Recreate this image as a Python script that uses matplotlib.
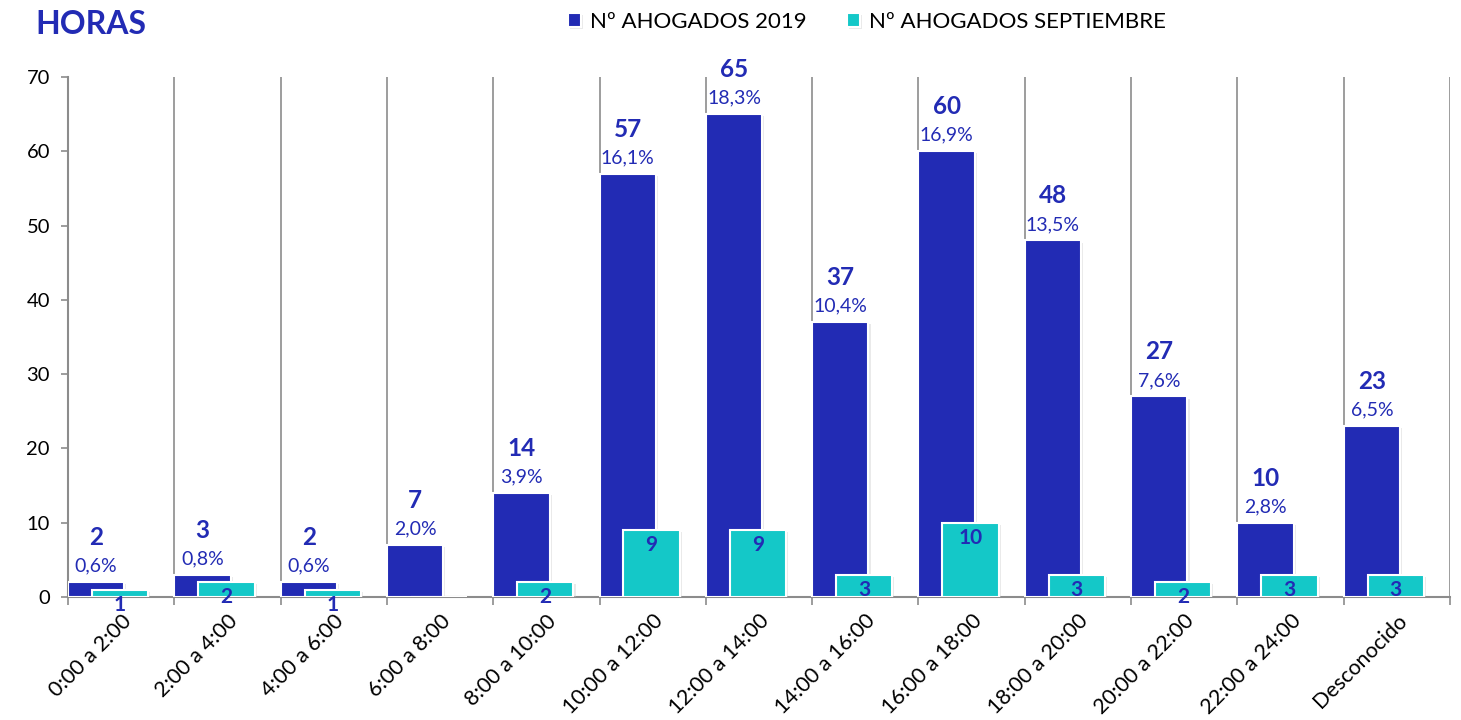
import matplotlib.pyplot as plt
import matplotlib.patheffects as pe
import numpy as np

# data
horas = ['0:00 a 2:00', '2:00 a 4:00', '4:00 a 6:00', '6:00 a 8:00', '8:00 a 10:00',
         '10:00 a 12:00', '12:00 a 14:00', '14:00 a 16:00', '16:00 a 18:00',
         '18:00 a 20:00', '20:00 a 22:00', '22:00 a 24:00', 'Desconocido']
ahogados_2019 = [2, 3, 2, 7, 14, 57, 65, 37, 60, 48, 27, 10, 23]
ahogados_sept = [1, 2, 1, 0, 2, 9, 9, 3, 10, 3, 2, 3, 3]
porcentajes = ['0,6%', '0,8%', '0,6%', '2,0%', '3,9%', '16,1%', '18,3%',
               '10,4%', '16,9%', '13,5%', '7,6%', '2,8%', '6,5%']

AZUL = '#222bb4'
CIAN = '#14c8c8'
GRIS = '#8c8c8c'

plt.rcParams['font.family'] = ['Lato', 'DejaVu Sans']

fig = plt.figure(figsize=(14.61, 7.2), dpi=100)
ax = fig.add_axes([68 / 1461, 1 - 597 / 720, (1450 - 68) / 1461, 520 / 720])

x = np.arange(len(horas))
w = 0.53
sombra = [pe.SimplePatchShadow(offset=(1.5, -1.5), shadow_rgbFace='#cccccc', alpha=0.4), pe.Normal()]

b1 = ax.bar(x - 0.235, ahogados_2019, w, color=AZUL, edgecolor='white', linewidth=1.5, zorder=3)
b2 = ax.bar(x - 0.01, ahogados_sept, w, color=CIAN, edgecolor='white', linewidth=1.5, zorder=4)
for r in list(b1) + list(b2):
    r.set_path_effects(sombra)

# labels serie 2019
for xi, v, p in zip(x, ahogados_2019, porcentajes):
    ax.annotate(str(v), (xi - 0.235, v), xytext=(0, 32), textcoords='offset points',
                ha='center', va='center', fontsize=17.5, fontweight='bold', color=AZUL, zorder=6)
    ax.annotate(p, (xi - 0.235, v), xytext=(0, 11.5), textcoords='offset points',
                ha='center', va='center', fontsize=14, color=AZUL, zorder=6)

# labels serie septiembre
for xi, v in zip(x, ahogados_sept):
    if v == 0:
        continue
    ax.annotate(str(v), (xi - 0.01, v), xytext=(0, -11), textcoords='offset points',
                ha='center', va='center', fontsize=15, fontweight='bold', color=AZUL, zorder=6)

ax.set_xlim(-0.5, len(horas) - 0.5)
ax.set_ylim(0, 70)
ax.set_yticks(range(0, 71, 10))
ax.set_xticks(x)
ax.set_xticklabels(horas, rotation=45, ha='right', rotation_mode='anchor', fontsize=15.5)
ax.set_xticks(np.arange(-0.5, len(horas)), minor=True)
ax.tick_params(axis='x', which='major', length=0, pad=10)
ax.tick_params(axis='x', which='minor', length=6, width=1.2, color=GRIS)
ax.tick_params(axis='y', length=5, width=1.2, color=GRIS, labelsize=14.5, pad=8)
ax.grid(axis='x', which='minor', color=GRIS, linewidth=1.2, zorder=0)

for s in ['top', 'right']:
    ax.spines[s].set_visible(False)
for s in ['left', 'bottom']:
    ax.spines[s].set_color(GRIS)
    ax.spines[s].set_linewidth(1.5)

fig.text(35 / 1461, 1 - 25 / 720, 'HORAS', fontsize=23, fontweight='bold', color=AZUL,
         ha='left', va='center')

fig.legend([b1, b2], ['Nº AHOGADOS 2019', 'Nº AHOGADOS SEPTIEMBRE'],
           loc='center', bbox_to_anchor=(867 / 1461, 1 - 22 / 720), ncol=2, frameon=False,
           fontsize=16, handlelength=0.6, handleheight=0.6, handletextpad=0.4, columnspacing=1.8)

fig.savefig('out.png', dpi=100)
